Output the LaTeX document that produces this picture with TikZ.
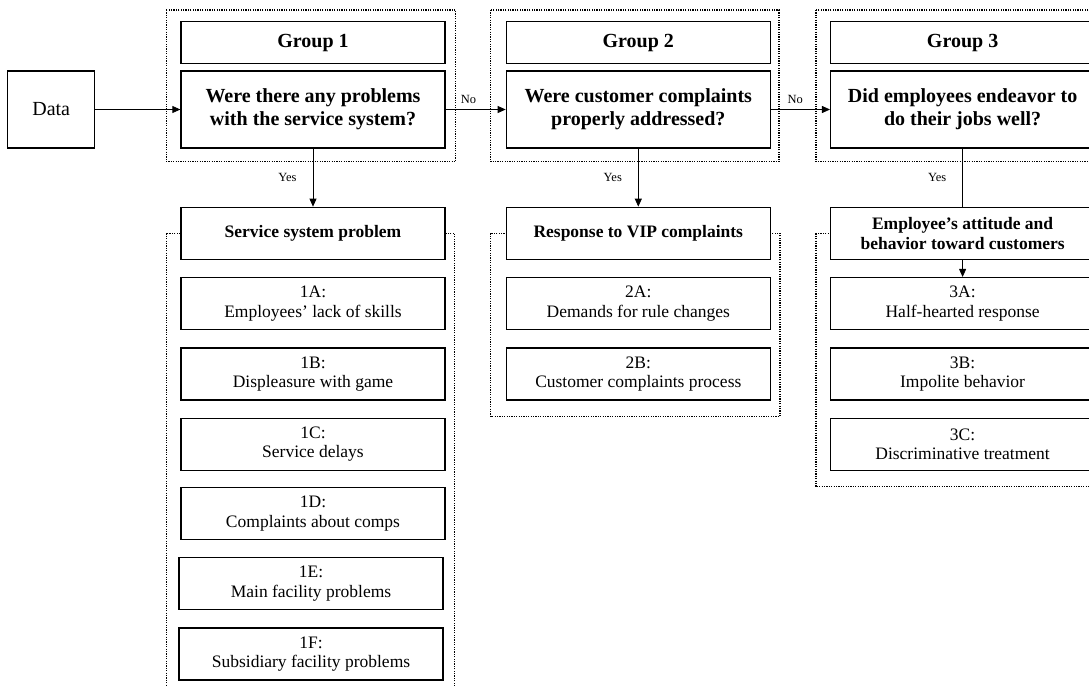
\documentclass[tikz,border=0pt]{standalone}
\usepackage{fontspec}
\setmainfont{Liberation Serif}
\usetikzlibrary{positioning, arrows.meta, calc, backgrounds}

\newcommand{\bigfont}{\fontsize{20}{23}\selectfont}
\newcommand{\midfont}{\fontsize{17.5}{19.5}\selectfont}
\newcommand{\smallfont}{\fontsize{12.5}{14}\selectfont}

\begin{document}
\begin{tikzpicture}[x=1pt, y=-1pt,
  box/.style={rectangle, draw=black, line width=1.3pt, fill=white,
    minimum width=264pt, text centered, align=center, inner sep=2pt},
  titlebox/.style={box, minimum height=42pt, font=\bigfont\bfseries},
  question/.style={box, minimum height=77pt, font=\bigfont\bfseries},
  headbox/.style={box, minimum height=52pt, font=\midfont\bfseries},
  itembox/.style={box, minimum height=52pt, font=\midfont},
  frame/.style={draw=black, line width=1.2pt, dash pattern=on 1.2pt off 1.2pt},
  arr/.style={-{Triangle[length=8pt,width=7pt]}, line width=0.8pt},
  lbl/.style={font=\smallfont, inner sep=2pt}]

  \path[use as bounding box, clip] (0,0) rectangle (1089,685);

  % questions and group titles
  \node (q1) [question] at (313,109.5) {Were there any problems\\with the service system?};
  \node (q2) [question, right=60pt of q1] {Were customer complaints\\properly addressed?};
  \node (q3) [question, right=59pt of q2] {Did employees endeavor to\\do their jobs well?};
  \node (g1) [titlebox, above=6pt of q1] {Group 1};
  \node (g2) [titlebox, above=6pt of q2] {Group 2};
  \node (g3) [titlebox, above=6pt of q3] {Group 3};

  \node (data) [box, minimum width=87pt, minimum height=77pt, font=\bigfont,
    left=85pt of q1] {Data};

  % group 1
  \node (s1) [headbox, below=58pt of q1] {Service system problem};
  \node (i1a) [itembox, below=17pt of s1] {1A:\\Employees’ lack of skills};
  \node (i1b) [itembox, below=17pt of i1a] {1B:\\Displeasure with game};
  \node (i1c) [itembox, below=17pt of i1b] {1C:\\Service delays};
  \node (i1d) [itembox, below=16pt of i1c] {1D:\\Complaints about comps};
  \node (i1e) [itembox, below=17pt of i1d, xshift=-2pt] {1E:\\Main facility problems};
  \node (i1f) [itembox, below=17pt of i1e] {1F:\\Subsidiary facility problems};

  % group 2
  \node (s2) [headbox, below=58pt of q2] {Response to VIP complaints};
  \node (i2a) [itembox, below=17pt of s2] {2A:\\Demands for rule changes};
  \node (i2b) [itembox, below=17pt of i2a] {2B:\\Customer complaints process};

  % group 3
  \node (s3) [headbox, below=58pt of q3] {Employee’s attitude and\\behavior toward customers};
  \node (i3a) [itembox, below=17pt of s3] {3A:\\Half-hearted response};
  \node (i3b) [itembox, below=17pt of i3a] {3B:\\Impolite behavior};
  \node (i3c) [itembox, below=17pt of i3b] {3C:\\Discriminative treatment};

  % dotted frames
  \begin{scope}[on background layer]
    \draw[frame] ($(g1.north west)+(-14pt,11pt)$) rectangle ($(q1.south east)+(10pt,-13pt)$);
    \draw[frame] ($(g2.north west)+(-15pt,11pt)$) rectangle ($(q2.south east)+(8pt,-13pt)$);
    \draw[frame] ($(g3.north west)+(-14pt,11pt)$) rectangle ($(q3.south east)+(10pt,-13pt)$);
    \draw[frame] ($(s1.west)+(-14pt,0pt)$) rectangle ($(i1f.south east)+(11pt,-14pt)$);
    \draw[frame] ($(s2.west)+(-15pt,0pt)$) rectangle ($(i2b.south east)+(9pt,-16pt)$);
    \draw[frame] ($(s3.west)+(-14pt,0pt)$) rectangle ($(i3c.south east)+(10pt,-16pt)$);
  \end{scope}

  % connectors
  \draw[arr] (data) -- (q1);
  \draw[arr] (q1) -- node[lbl, above=3pt, pos=0.38] {No} (q2);
  \draw[arr] (q2) -- node[lbl, above=3pt, pos=0.41] {No} (q3);
  \draw[arr] (q1) -- node[lbl, left=14pt] {Yes} (s1);
  \draw[arr] (q2) -- node[lbl, left=14pt] {Yes} (s2);
  \draw[line width=0.8pt] (q3) -- node[lbl, left=14pt] {Yes} (s3);
  \draw[arr] (s3) -- (i3a);
\end{tikzpicture}
\end{document}
